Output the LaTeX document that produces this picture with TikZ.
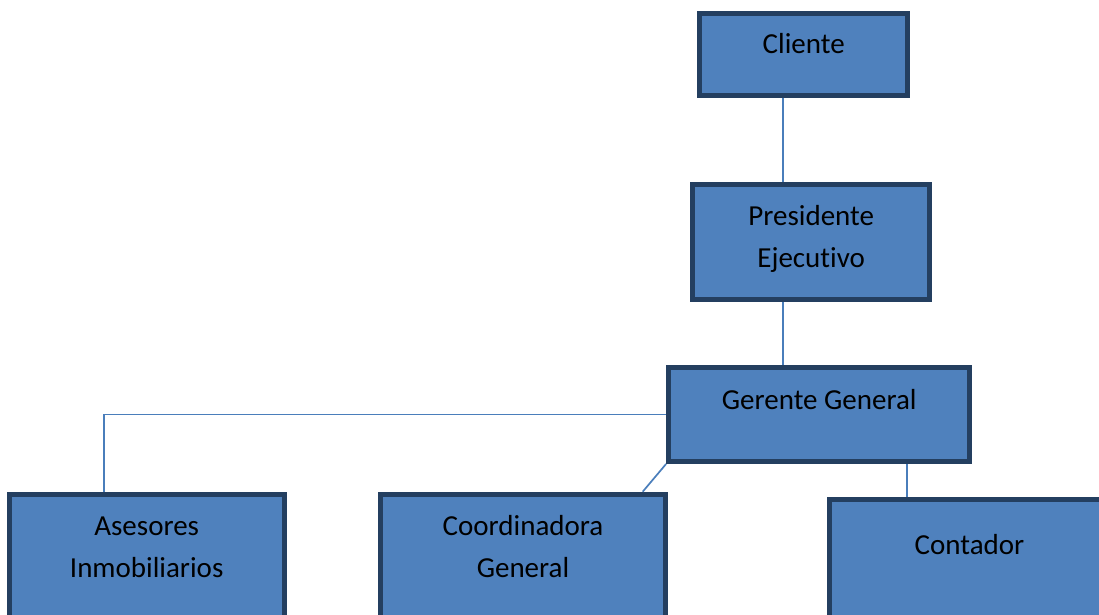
\documentclass[tikz,border=0pt]{standalone}
\usepackage{fontspec}
\setmainfont{Carlito}[Ligatures=NoCommon]
\usetikzlibrary{positioning}
\definecolor{boxfill}{HTML}{4F81BD}
\definecolor{boxline}{HTML}{243F60}
\definecolor{linkline}{HTML}{4A7EBB}

\begin{document}
\begin{tikzpicture}[x=1pt, y=-1pt,
    orgbox/.style={draw=boxline, fill=boxfill, line width=5pt, inner sep=0pt},
    orgtext/.style={anchor=north, inner sep=0pt, outer sep=0pt, align=center, text=black,
        font=\fontsize{29}{42}\selectfont, yshift=-13.6pt, execute at begin node=\strut},
    link/.style={draw=linkline, line width=1.7pt}]

    % Cadre de l'image
    \useasboundingbox (0,0) rectangle (1099,614);
    \clip (0,0) rectangle (1099,614);

    % Boites
    \node[orgbox, minimum width=207.7pt, minimum height=82pt,
        label={[orgtext]north:Cliente}] (cli) at (803.7,54.2) {};
    \node[orgbox, minimum width=237.3pt, minimum height=115pt,
        label={[orgtext, yshift=-9pt]north:Presidente\\Ejecutivo}] (pre) at (811.2,242.3) {};
    \node[orgbox, minimum width=301.3pt, minimum height=94pt,
        label={[orgtext, yshift=-1.3pt]north:Gerente General}] (ger) at (819.2,414.5) {};
    \node[orgbox, minimum width=275pt, minimum height=155.8pt,
        label={[orgtext, yshift=-12pt]north:Asesores\\Inmobiliarios}] (ase) at (146.7,572.1) {};
    \node[orgbox, minimum width=284.4pt, minimum height=155.8pt,
        label={[orgtext, yshift=-10pt]north:Coordinadora\\General}] (coo) at (523,572.1) {};
    \node[orgbox, minimum width=279.4pt, minimum height=150.8pt,
        label={[orgtext, yshift=-15pt]north:Contador}] (con) at (969.5,574.6) {};

    % Liaisons
    \draw[link] ([xshift=-20.7pt]cli.south) -- ([xshift=-20.7pt]cli.south |- pre.north);
    \draw[link] ([xshift=-28.2pt]pre.south) -- ([xshift=-28.2pt]pre.south |- ger.north);
    \draw[link] (ger.west) -| ([xshift=-42.4pt]ase.north);
    \draw[link] (ger.south west) -- ([xshift=-25pt]coo.north east);
    \draw[link] ([xshift=88.1pt]ger.south) -- ([xshift=88.1pt]ger.south |- con.north);

\end{tikzpicture}
\end{document}
